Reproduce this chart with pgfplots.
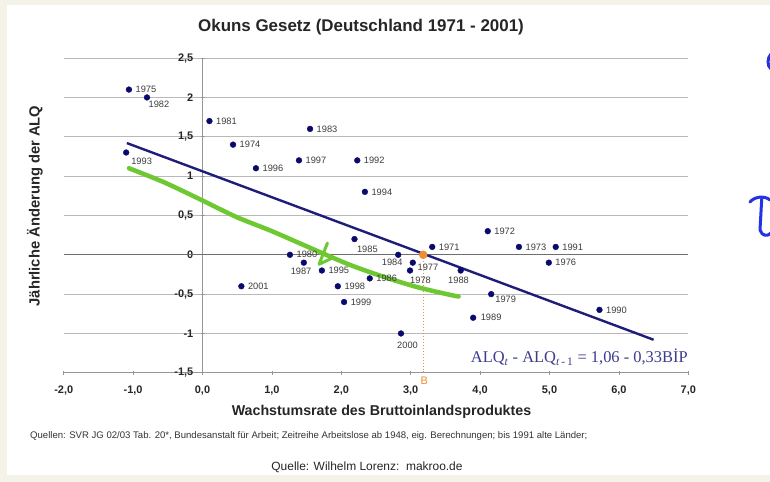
\documentclass[border=0pt]{standalone}
\usepackage{pgfplots}
\pgfplotsset{compat=1.18}
\usepackage{pgfplotstable}
\usepackage{fontspec}
\setmainfont{Liberation Sans}
\newfontfamily\seriffont{Liberation Serif}
\definecolor{bgbeige}{RGB}{245,243,232}
\definecolor{navy}{RGB}{10,10,110}
\definecolor{regline}{RGB}{30,30,120}
\definecolor{greenpen}{RGB}{110,200,50}
\definecolor{orangept}{RGB}{240,140,50}
\definecolor{orangeline}{RGB}{225,150,80}
\definecolor{eqcol}{RGB}{60,60,140}
\definecolor{penblue}{RGB}{35,50,230}
\definecolor{gridgray}{RGB}{185,185,185}
\definecolor{axisgray}{RGB}{150,150,150}
\definecolor{zerogray}{RGB}{110,110,110}
\definecolor{labelgray}{RGB}{60,60,60}

\pgfplotstableread{
x y label dx dy
-1.06 2.10 1975 6.5 0
-0.80 2.00 1982 1.5 -7
-1.10 1.30 1993 5 -8.7
0.10 1.70 1981 6.5 0
0.44 1.40 1974 6.5 0
0.77 1.10 1996 6.5 0
1.55 1.60 1983 6.5 0
1.39 1.20 1997 6.5 0
2.23 1.20 1992 6.5 0
2.34 0.80 1994 6.5 0
2.19 0.20 1985 2.4 -10
1.26 0.00 1980 6.5 0
1.46 -0.10 1987 -13.3 -9
1.72 -0.20 1995 6.5 0
1.95 -0.40 1998 6.5 0
2.04 -0.60 1999 6.5 0
2.41 -0.30 1986 6.5 0
2.82 0.00 1984 -16.6 -8
3.03 -0.10 1977 4.7 -5
2.99 -0.20 1978 0 -9.7
3.31 0.10 1971 6.5 0
3.72 -0.20 1988 -12.7 -9.7
4.16 -0.50 1979 4 -5.7
3.90 -0.80 1989 7.5 0
2.86 -1.00 2000 -4 -11.7
4.11 0.30 1972 6.5 0
4.56 0.10 1973 6.5 0
5.09 0.10 1991 6.5 0
4.99 -0.10 1976 6.5 0
5.72 -0.70 1990 6.5 0
0.56 -0.40 2001 6.5 0
}\okundata

\pgfplotstableread{
x y
-1.06 1.10
-0.55 0.92
0.00 0.69
0.49 0.48
1.00 0.30
1.65 0.05
2.13 -0.13
2.61 -0.28
3.09 -0.41
3.57 -0.51
3.69 -0.53
}\greendata

\begin{document}
\begin{tikzpicture}
\useasboundingbox (0,0) rectangle (770bp,482bp);
\fill[bgbeige] (0,0) rectangle (770bp,482bp);
\fill[white] (7bp,7bp) rectangle (770bp,477bp);

\begin{axis}[
  at={(63.7bp,109.2bp)}, anchor=south west,
  scale only axis, width=624.6bp, height=314.7bp,
  xmin=-2, xmax=7, ymin=-1.5, ymax=2.5,
  clip=false,
  axis x line=bottom, axis y line=middle,
  axis line style={-, draw=axisgray, line width=1bp},
  hide obscured x ticks=false, hide obscured y ticks=false,
  xtick={-2,-1,0,1,2,3,4,5,6,7},
  ytick={-1.5,-1,-0.5,0,0.5,1,1.5,2,2.5},
  ymajorgrids,
  grid style={gridgray, line width=1.1bp},
  tick style={draw=axisgray, line width=0.8bp},
  major tick length=4bp,
  xticklabel={\pgfmathprintnumber[fixed,fixed zerofill,precision=1,use comma,assume math mode=true]{\tick}},
  yticklabel={\pgfmathprintnumber[fixed,precision=1,use comma,assume math mode=true]{\tick}},
  ticklabel style={font=\fontsize{11}{12}\selectfont\bfseries, text=black!85},
  xticklabel style={anchor=north, inner sep=0pt, yshift=-11bp},
  yticklabel style={anchor=east, inner sep=0pt, xshift=-7bp},
]
% zero line darker
\addplot[zerogray, line width=1.1bp, forget plot] coordinates {(-2,0) (7,0)};
% orange dotted drop line
\addplot[dotted, orangeline, line width=1bp, forget plot] coordinates {(3.18,0) (3.18,-1.5)};
% data points with year labels
\addplot[only marks, mark=*, mark size=2.9bp, navy,
  point meta=explicit symbolic,
  visualization depends on={\thisrow{dx} \as \mydx},
  visualization depends on={\thisrow{dy} \as \mydy},
  nodes near coords,
  every node near coord/.append style={anchor=west, inner sep=0pt,
    xshift=\mydx, yshift=\mydy, text=labelgray,
    font=\fontsize{9.3}{10}\selectfont},
] table[x=x, y=y, meta=label] {\okundata};
% regression line
\addplot[regline, line width=2.4bp] coordinates {(-1.09,1.42) (6.50,-1.08)};
% orange point
\addplot[only marks, mark=*, mark size=4bp, orangept] coordinates {(3.18,0)};
% green hand drawn line
\addplot[greenpen, line width=4.5bp, smooth, line cap=round, line join=round] table[x=x,y=y] {\greendata};
\addplot[greenpen, line width=3bp, line cap=round, line join=round] coordinates {(1.80,0.15) (1.68,-0.12) (1.85,-0.05)};
\end{axis}

% texts
\node[font=\fontsize{17}{20}\selectfont\bfseries, text=black!85] at (361bp,455bp) {Okuns Gesetz (Deutschland 1971 - 2001)};
\node[rotate=90, font=\fontsize{14.8}{17}\selectfont\bfseries, text=black!85] at (35bp,276bp) {Jährliche Änderung der ALQ};
\node[font=\fontsize{14.3}{17}\selectfont\bfseries, text=black!85] at (381.5bp,70bp) {Wachstumsrate des Bruttoinlandsproduktes};
\node[anchor=west, inner sep=0pt, font=\fontsize{9.6}{11}\selectfont, text=black!80] at (30bp,46bp) {Quellen: SVR JG 02/03 Tab. 20*, Bundesanstalt für Arbeit; Zeitreihe Arbeitslose ab 1948, eig. Berechnungen; bis 1991 alte Länder;};
\node[font=\fontsize{12}{14}\selectfont, text=black!85] at (367bp,15bp) {Quelle: Wilhelm Lorenz:\ \ makroo.de};
\node[anchor=base west, inner sep=0pt, font=\seriffont\fontsize{16.5}{18}\selectfont, text=eqcol] at (470.7bp,119bp) {ALQ\textsubscript{\textit{t}} - ALQ\textsubscript{\textit{t}\,-\,1} = 1,06 - 0,33BİP};
\node[text=orangept, font=\fontsize{11}{12}\selectfont] at (424.3bp,101.3bp) {B};

% blue pen scribbles at the right edge
\draw[penblue, line width=3bp, line cap=round] (771bp,428bp) .. controls (767bp,424bp) and (767bp,416bp) .. (771bp,413bp);
\draw[penblue, line width=3bp, line cap=round, line join=round] (750bp,280bp) .. controls (754bp,285bp) and (764bp,287bp) .. (770bp,282bp);
\draw[penblue, line width=3bp, line cap=round, line join=round] (761.7bp,283bp) -- (760bp,252bp) .. controls (762bp,246bp) and (767bp,245bp) .. (771bp,249bp);
\end{tikzpicture}
\end{document}
